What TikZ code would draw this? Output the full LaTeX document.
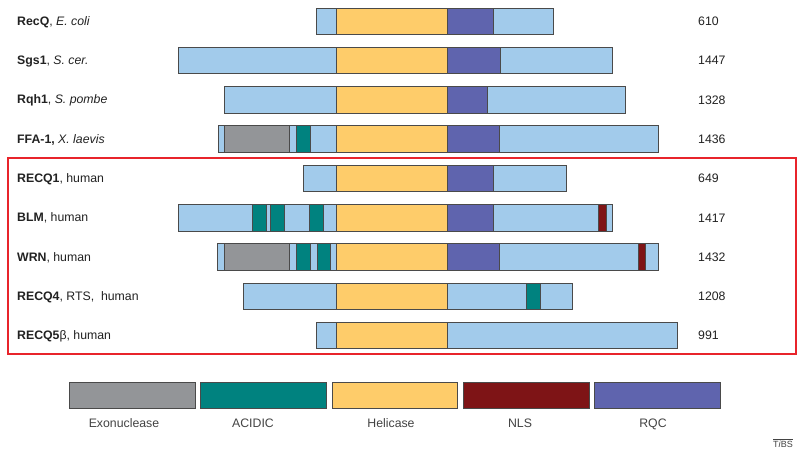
\documentclass[tikz,border=0pt]{standalone}
\usepackage{fontspec}
\setmainfont{Liberation Sans}
\definecolor{lblue}{HTML}{A2CBEB}
\definecolor{heli}{HTML}{FECC6A}
\definecolor{rqc}{HTML}{5F64AE}
\definecolor{exo}{HTML}{939598}
\definecolor{acid}{HTML}{00827F}
\definecolor{nls}{HTML}{7E1416}
\definecolor{edge}{HTML}{4A4A4A}
\definecolor{boxred}{HTML}{E8242B}
\definecolor{txt}{HTML}{222222}
\newcommand{\dseg}[4]{\draw[segline, fill=#4] ({#1},{#3}) rectangle ({#2},{#3+26.5});}
\begin{document}
\begin{tikzpicture}[x=1pt,y=-1pt,
  segline/.style={draw=edge, line width=0.9pt},
  lab/.style={anchor=base west, inner sep=0pt, font=\fontsize{12.3}{14}\selectfont, text=txt},
  num/.style={anchor=base west, inner sep=0pt, font=\fontsize{12.3}{14}\selectfont, text=txt},
  leg/.style={anchor=base, inner sep=0pt, font=\fontsize{12.3}{14}\selectfont, text=txt!85}]
\useasboundingbox (0,0) rectangle (800,453);
\fill[white] (0,0) rectangle (800,453);
% Row 1: RecQ
\def\y{8}
\dseg{316}{336}{\y}{lblue}\dseg{336}{447}{\y}{heli}\dseg{447}{493}{\y}{rqc}\dseg{493}{553}{\y}{lblue}
% Row 2: Sgs1
\def\y{47.3}
\dseg{178}{336}{\y}{lblue}\dseg{336}{447}{\y}{heli}\dseg{447}{500}{\y}{rqc}\dseg{500}{612}{\y}{lblue}
% Row 3: Rqh1
\def\y{86.6}
\dseg{224}{336}{\y}{lblue}\dseg{336}{447}{\y}{heli}\dseg{447}{487}{\y}{rqc}\dseg{487}{625}{\y}{lblue}
% Row 4: FFA-1
\def\y{125.9}
\dseg{218}{224}{\y}{lblue}\dseg{224}{289}{\y}{exo}\dseg{289}{296}{\y}{lblue}\dseg{296}{310}{\y}{acid}\dseg{310}{336}{\y}{lblue}
\dseg{336}{447}{\y}{heli}\dseg{447}{499}{\y}{rqc}\dseg{499}{658}{\y}{lblue}
% Row 5: RECQ1
\def\y{165.2}
\dseg{303}{336}{\y}{lblue}\dseg{336}{447}{\y}{heli}\dseg{447}{493}{\y}{rqc}\dseg{493}{566}{\y}{lblue}
% Row 6: BLM
\def\y{204.5}
\dseg{178}{336}{\y}{lblue}
\dseg{252}{266}{\y}{acid}\dseg{270}{284}{\y}{acid}\dseg{309}{323}{\y}{acid}
\dseg{336}{447}{\y}{heli}\dseg{447}{493}{\y}{rqc}\dseg{493}{612}{\y}{lblue}\dseg{598}{606}{\y}{nls}
% Row 7: WRN
\def\y{243.8}
\dseg{217}{224}{\y}{lblue}\dseg{224}{289}{\y}{exo}\dseg{289}{336}{\y}{lblue}
\dseg{296}{310}{\y}{acid}\dseg{317}{330}{\y}{acid}
\dseg{336}{447}{\y}{heli}\dseg{447}{499}{\y}{rqc}\dseg{499}{658}{\y}{lblue}\dseg{638}{645}{\y}{nls}
% Row 8: RECQ4
\def\y{283.1}
\dseg{243}{336}{\y}{lblue}\dseg{336}{447}{\y}{heli}\dseg{447}{572}{\y}{lblue}\dseg{526}{540}{\y}{acid}
% Row 9: RECQ5b
\def\y{322.4}
\dseg{316}{336}{\y}{lblue}\dseg{336}{447}{\y}{heli}\dseg{447}{677}{\y}{lblue}
% labels
\node[lab] (l1) at (17,25.3) {\textbf{RecQ}, \textit{E. coli}};
\node[lab] (l2) at (17,64.6) {\textbf{Sgs1}, \textit{S. cer.}};
\node[lab] (l3) at (17,103.9) {\textbf{Rqh1}, \textit{S. pombe}};
\node[lab] (l4) at (17,143.2) {\textbf{FFA-1,} \textit{X. laevis}};
\node[lab] (l5) at (17,182.5) {\textbf{RECQ1}, human};
\node[lab] (l6) at (17,221.8) {\textbf{BLM}, human};
\node[lab] (l7) at (17,261.1) {\textbf{WRN}, human};
\node[lab] (l8) at (17,300.4) {\textbf{RECQ4}, RTS,\ \ human};
\node[lab] (l9) at (17,339.7) {\textbf{RECQ5}β, human};
% numbers
\node[num] (n1) at (698,25.5) {610};
\node[num] (n2) at (698,64.8) {1447};
\node[num] (n3) at (698,104.1) {1328};
\node[num] (n4) at (698,143.4) {1436};
\node[num] (n5) at (698,182.7) {649};
\node[num] (n6) at (698,222.0) {1417};
\node[num] (n7) at (698,261.3) {1432};
\node[num] (n8) at (698,300.6) {1208};
\node[num] (n9) at (698,339.9) {991};
% red frame
\draw[boxred, line width=1.3pt] (8,158) rectangle (796,354);
% legend
\dseg{69}{195}{382}{exo}
\dseg{200}{326}{382}{acid}
\dseg{332}{457}{382}{heli}
\dseg{463}{589}{382}{nls}
\dseg{594}{720}{382}{rqc}
\node[leg] (g1) at (124,427.5) {Exonuclease};
\node[leg] (g2) at (253,427.5) {ACIDIC};
\node[leg] (g3) at (391,427.5) {Helicase};
\node[leg] (g4) at (520,427.5) {NLS};
\node[leg] (g5) at (653,427.5) {RQC};
\node[anchor=base, inner sep=0pt, font=\fontsize{9}{10}\selectfont, text=txt!85] (tibs) at (783,447) {$\overline{\mbox{T\textit{i}BS}}$};
\end{tikzpicture}
\end{document}
